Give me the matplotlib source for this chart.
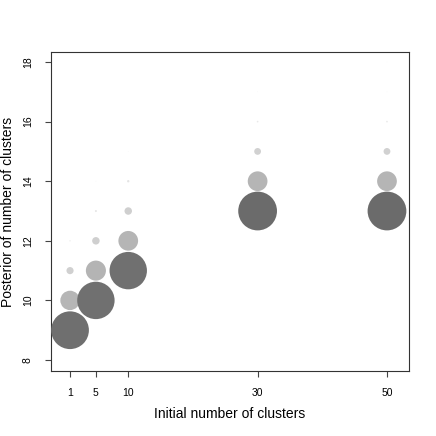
import numpy as np
import matplotlib
matplotlib.use('Agg')
from matplotlib import pyplot as plt

plt.rcParams['font.family'] = ['Liberation Sans', 'DejaVu Sans']

# Initial number of clusters (x) and posterior number of clusters (y)
initK = [1, 5, 10, 30, 50]
# posterior values shown for each initial K
postK = {
    1: [9, 10, 11, 12, 13, 14],
    5: [10, 11, 12, 13, 14, 15],
    10: [11, 12, 13, 14, 15, 16],
    30: [13, 14, 15, 16, 17, 18],
    50: [13, 14, 15, 16, 17, 18],
}
# posterior probability of each value (bubble size / shade)
postProb = {
    1: [0.555, 0.285, 0.105, 0.02, 0.008, 0.004],
    5: [0.55, 0.295, 0.11, 0.03, 0.01, 0.005],
    10: [0.55, 0.29, 0.11, 0.035, 0.01, 0.005],
    30: [0.57, 0.29, 0.10, 0.025, 0.01, 0.005],
    50: [0.57, 0.29, 0.10, 0.025, 0.01, 0.005],
}

xTicks = [1, 5, 10, 30, 50]
yTicks = [8, 10, 12, 14, 16, 18]


def probToSize(p):
    # diameter in pixels proportional to prob, converted to points^2
    d = 68.0 * np.asarray(p)
    return (d * 0.72) ** 2


def probToColor(p):
    # darker for higher probability
    lvl = np.interp(p, [0.0, 0.03, 0.11, 0.29, 0.57], [0.98, 0.90, 0.81, 0.71, 0.42])
    return [(v, v, v) for v in lvl]


fig = plt.figure(figsize=(4.36, 4.36), dpi=100)
ax = fig.add_axes([0.117, 0.149, 0.821, 0.732])

for k in initK:
    xs = [k] * len(postK[k])
    ax.scatter(xs, postK[k], s=probToSize(postProb[k]), c=probToColor(postProb[k]),
               edgecolors='none', zorder=3)

ax.set_xlim(-1.94, 53.4)
ax.set_ylim(7.63, 18.34)
ax.set_xticks(xTicks)
ax.set_xticklabels([str(v) for v in xTicks], fontsize=7.5)
ax.set_yticks(yTicks)
ax.set_yticklabels([str(v) for v in yTicks], fontsize=7.5, rotation=90, va='center')
ax.tick_params(axis='x', direction='out', length=4.5, width=0.8, color='#444444', pad=7.5)
ax.tick_params(axis='y', direction='out', length=4.5, width=0.8, color='#444444', pad=8.5)
for s in ax.spines.values():
    s.set_color('#333333')
    s.set_linewidth(0.8)

ax.set_xlabel('Initial number of clusters', fontsize=10)
ax.set_ylabel('Posterior of number of clusters', fontsize=10)
ax.xaxis.set_label_coords(0.5, -0.113)
ax.yaxis.set_label_coords(-0.102, 0.5)

fig.savefig('out.png', dpi=100)
